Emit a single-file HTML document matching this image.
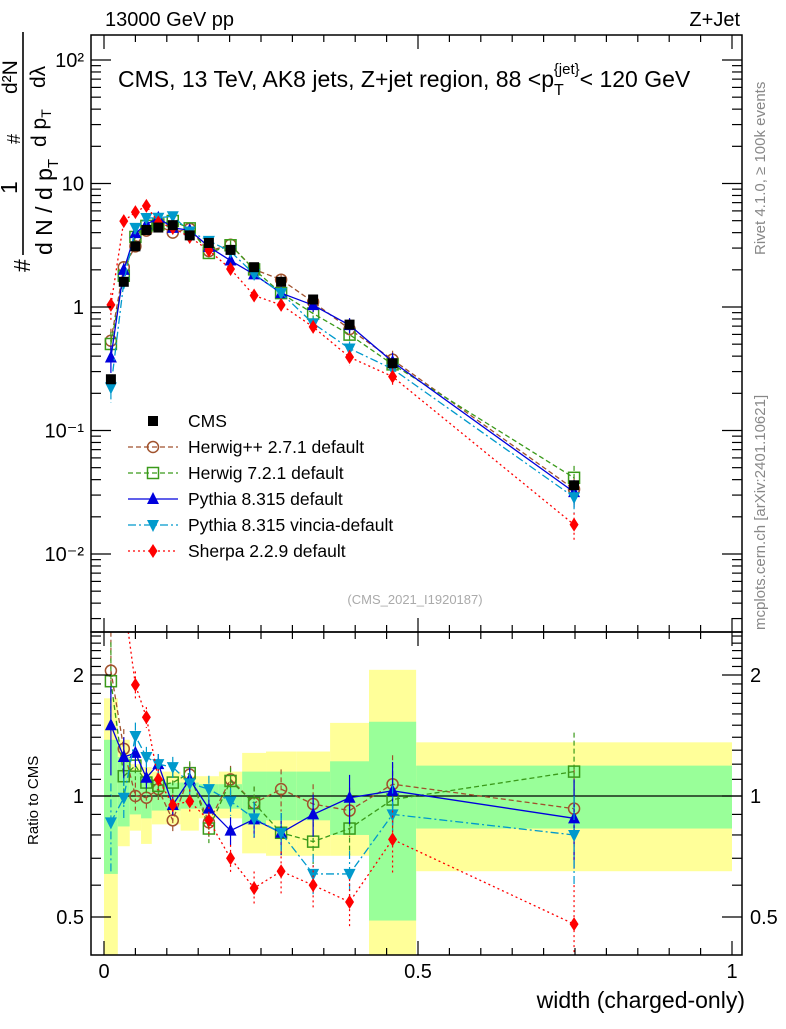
<!DOCTYPE html>
<html><head><meta charset="utf-8"><style>
body{margin:0;background:#fff;}
svg text{font-family:"Liberation Sans",sans-serif;}
</style></head><body>
<svg id="c" width="786" height="1024" xmlns="http://www.w3.org/2000/svg">
<text x="105" y="26" font-size="20">13000 GeV pp</text>
<text x="740" y="26" font-size="20" text-anchor="end">Z+Jet</text>
<text x="118" y="87" font-size="23">CMS, 13 TeV, AK8 jets, Z+jet region, 88 &lt;p<tspan font-size="16" dy="8">T</tspan><tspan font-size="15" dy="-21" dx="-10">{jet}</tspan><tspan dy="13">&lt; 120 GeV</tspan></text>
<g transform="translate(30,272) rotate(-90)">
<text x="0" y="0" font-size="23">#</text>
<line x1="17" y1="-7" x2="240" y2="-7" stroke="#000" stroke-width="1.6"/>
<text x="78" y="-13" font-size="23">1</text>
<text x="17" y="22" font-size="23">d N / d p<tspan font-size="15" dy="6">T</tspan></text>
<text x="128" y="-10" font-size="18">#</text>
<text x="125" y="16" font-size="21">d p<tspan font-size="14" dy="5">T</tspan></text>
<text x="178" y="-13" font-size="21">d²N</text>
<text x="184" y="15" font-size="21">dλ</text>
</g>
<text transform="translate(765,255) rotate(-90)" font-size="15" fill="#888">Rivet 4.1.0, ≥ 100k events</text>
<text transform="translate(765,630) rotate(-90)" font-size="15" fill="#888">mcplots.cern.ch [arXiv:2401.10621]</text>
<text x="415" y="604" font-size="13" fill="#aaa" text-anchor="middle">(CMS_2021_I1920187)</text>
<text transform="translate(38,845) rotate(-90)" font-size="15">Ratio to CMS</text>
<text x="745" y="1008" font-size="23" text-anchor="end">width (charged-only)</text>
<g id="plot"></g>
</svg>
<script>
const binEdges=[0,0.022,0.041,0.059,0.076,0.097,0.122,0.151,0.183,0.220,0.258,0.306,0.360,0.422,0.497,1.0];
const cms=[0.26,1.6,3.1,4.2,4.4,4.6,3.8,3.3,2.9,2.1,1.6,1.15,0.72,0.35,0.036];
const rHerwigpp=[2.05,1.31,1.0,0.99,1.04,0.87,1.13,0.86,1.1,0.96,1.04,0.955,0.92,1.07,0.93];
const rHerwig7=[1.93,1.12,1.19,1.08,1.06,1.08,1.14,0.83,1.09,0.96,0.81,0.77,0.83,0.98,1.15];
const rPythia=[1.5,1.25,1.28,1.11,1.2,0.95,1.1,0.93,0.82,0.875,0.81,0.9,0.99,1.03,0.88];
const rVincia=[0.86,0.99,1.41,1.25,1.2,1.18,1.075,1.04,0.97,0.88,0.81,0.64,0.64,0.9,0.8];
const rSherpa=[4.0,3.1,1.89,1.57,1.1,0.95,0.97,0.87,0.7,0.59,0.65,0.6,0.545,0.78,0.48];
const relErr=[0.25,0.12,0.08,0.06,0.06,0.06,0.07,0.08,0.08,0.1,0.12,0.12,0.14,0.18,0.25];
const yellowLo=[0.38,0.75,0.82,0.76,0.85,0.85,0.82,0.88,0.88,0.72,0.71,0.71,0.71,0.40,0.65];
const yellowHi=[1.75,1.38,1.2,1.18,1.15,1.15,1.12,1.12,1.15,1.28,1.29,1.29,1.52,2.06,1.36];
const greenLo=[0.64,0.84,0.9,0.88,0.92,0.92,0.93,0.93,0.93,0.85,0.87,0.87,0.8,0.49,0.83];
const greenHi=[1.38,1.25,1.15,1.12,1.1,1.08,1.08,1.07,1.07,1.15,1.15,1.15,1.22,1.53,1.19];
const xTicks=[0,0.5,1];
const xTickLabels=["0","0.5","1"];
const yTicks=[2,1,0,-1,-2];
const yTickLabels=["10²","10","1","10⁻¹","10⁻²"];
const rTicks=[2,1,0.5];
const rTickLabels=["2","1","0.5"];

const NS="http://www.w3.org/2000/svg";
const g=document.getElementById('plot');
const L=91,R=742,T=35,M=632,B=955;
const X=v=>104+v*628;
const Y=v=>307-Math.log10(v)*123.5;
const RY=v=>796-Math.log10(v)*402;
function el(t,a,p){const e=document.createElementNS(NS,t);for(const k in a)e.setAttribute(k,a[k]);(p||g).appendChild(e);return e;}
const clipM=el('clipPath',{id:'cm'});el('rect',{x:L,y:T,width:R-L,height:M-T},clipM);
const clipR=el('clipPath',{id:'cr'});el('rect',{x:L,y:M,width:R-L,height:B-M},clipR);
const gm=el('g',{'clip-path':'url(#cm)'});


const gr=el('g',{'clip-path':'url(#cr)'});


const n=cms.length;
const centers=[];for(let i=0;i<n;i++)centers.push((binEdges[i]+binEdges[i+1])/2);
for(let i=0;i<n;i++){
  const x0=X(binEdges[i]),x1=X(binEdges[i+1]);
  const y=el('rect',{x:x0,y:RY(yellowHi[i]),width:x1-x0,height:RY(yellowLo[i])-RY(yellowHi[i]),fill:'#ffff99'},gr);
  
  
  const gg=el('rect',{x:x0,y:RY(greenHi[i]),width:x1-x0,height:RY(greenLo[i])-RY(greenHi[i]),fill:'#99ff99'},gr);
  
  
}
el('line',{x1:L,y1:RY(1),x2:R,y2:RY(1),stroke:'#000','stroke-width':1.2},gr);
const series=[
 {name:'herwigpp',r:rHerwigpp,c:'#a0522d',dash:'5,3',m:'circle',label:'Herwig++ 2.7.1 default'},
 {name:'herwig7',r:rHerwig7,c:'#3a9a1a',dash:'5,3',m:'square',label:'Herwig 7.2.1 default'},
 {name:'pythia',r:rPythia,c:'#0000dd',dash:'',m:'up',label:'Pythia 8.315 default'},
 {name:'vincia',r:rVincia,c:'#0099cc',dash:'8,3,2,3',m:'down',label:'Pythia 8.315 vincia-default'},
 {name:'sherpa',r:rSherpa,c:'#ff0000',dash:'2,3',m:'diamond',label:'Sherpa 2.2.9 default'}];
function marker(p,m,x,y,c){
  let e;
  if(m==='circle')e=el('circle',{cx:x,cy:y,r:5.5,fill:'none',stroke:c,'stroke-width':1.5},p);
  else if(m==='square')e=el('rect',{x:x-5.5,y:y-5.5,width:11,height:11,fill:'none',stroke:c,'stroke-width':1.5},p);
  else if(m==='up')e=el('polygon',{points:`${x},${y-7} ${x-6},${y+5} ${x+6},${y+5}`,fill:c},p);
  else if(m==='down')e=el('polygon',{points:`${x},${y+7} ${x-6},${y-5} ${x+6},${y-5}`,fill:c},p);
  else if(m==='diamond')e=el('polygon',{points:`${x},${y-7} ${x-4.5},${y} ${x},${y+7} ${x+4.5},${y}`,fill:c},p);
  else e=el('rect',{x:x-5,y:y-5,width:10,height:10,fill:c},p);
  return e;
}
series.forEach(s=>{
  const main=s.r.map((r,i)=>r*cms[i]);
  [[gm,main,Y],[gr,s.r,RY]].forEach(([p,vals,fy],k)=>{
    const pl=el('polyline',{points:vals.map((v,i)=>X(centers[i])+','+fy(v)).join(' '),fill:'none',stroke:s.c,'stroke-width':1.3,'stroke-dasharray':s.dash},p);
    
    
    vals.forEach((v,i)=>{
      const x=X(centers[i]);
      el('line',{x1:x,x2:x,y1:fy(v*(1+relErr[i])),y2:fy(v*(1-relErr[i])),stroke:s.c,'stroke-width':1.2,'stroke-dasharray':s.dash},p);
      const mk=marker(p,s.m,x,fy(v),s.c);
      
      
    });
  });
});
cms.forEach((v,i)=>{
  const mk=marker(gm,'sq',X(centers[i]),Y(v),'#000');
  
  
});
el('rect',{x:L,y:T,width:R-L,height:M-T,fill:'none',stroke:'#000','stroke-width':1.5});
el('rect',{x:L,y:M,width:R-L,height:B-M,fill:'none',stroke:'#000','stroke-width':1.5});
for(let v=0;v<=1.0001;v+=0.05){
  const big=Math.abs(v*10-Math.round(v*10))<1e-6&&Math.round(v*10)%5===0;const len=big?14:7;
  [[T,1],[M,1],[B,-1],[M,-1]].forEach(([yy,d])=>el('line',{x1:X(v),x2:X(v),y1:yy,y2:yy+d*len,stroke:'#000','stroke-width':1.2}));
}
xTicks.forEach((v,i)=>{const t=el('text',{x:X(v),y:978,'font-size':20,'text-anchor':'middle'});t.textContent=xTickLabels[i];

});
for(let d=-3;d<=2;d++){for(let k=1;k<10;k++){const v=k*Math.pow(10,d);const y=Y(v);if(y<T||y>M)continue;const len=k===1?20:10;
 el('line',{x1:L,x2:L+len,y1:y,y2:y,stroke:'#000','stroke-width':1.2});el('line',{x1:R,x2:R-len,y1:y,y2:y,stroke:'#000','stroke-width':1.2});}}
yTicks.forEach((d,i)=>{const t=el('text',{x:84,y:Y(Math.pow(10,d))+7,'font-size':20,'text-anchor':'end'});t.textContent=yTickLabels[i];

});
for(let v=0.4;v<=2.6;v+=0.1){const y=RY(v);if(y<M||y>B)continue;const big=[0.5,1,2].some(q=>Math.abs(q-v)<1e-6);const len=big?20:10;
 el('line',{x1:L,x2:L+len,y1:y,y2:y,stroke:'#000','stroke-width':1.2});el('line',{x1:R,x2:R-len,y1:y,y2:y,stroke:'#000','stroke-width':1.2});}
rTicks.forEach((v,i)=>{[[84,'end'],[750,'start']].forEach(([x,a])=>{const t=el('text',{x:x,y:RY(v)+7,'font-size':20,'text-anchor':a});t.textContent=rTickLabels[i];

});});
const lg=el('g',{});


const ent=[{c:'#000',m:'sq',dash:'',label:'CMS'}].concat(series);
ent.forEach((s,i)=>{const y=421+i*26;
 const e=el('g',{},lg);
 
 
 if(i>0)el('line',{x1:128,x2:178,y1:y,y2:y,stroke:s.c,'stroke-width':1.3,'stroke-dasharray':s.dash},e);
 marker(e,s.m,153,y,s.c);
 const t=el('text',{x:188,y:y+6,'font-size':17.5},e);t.textContent=s.label;});
</script>
</body></html>
